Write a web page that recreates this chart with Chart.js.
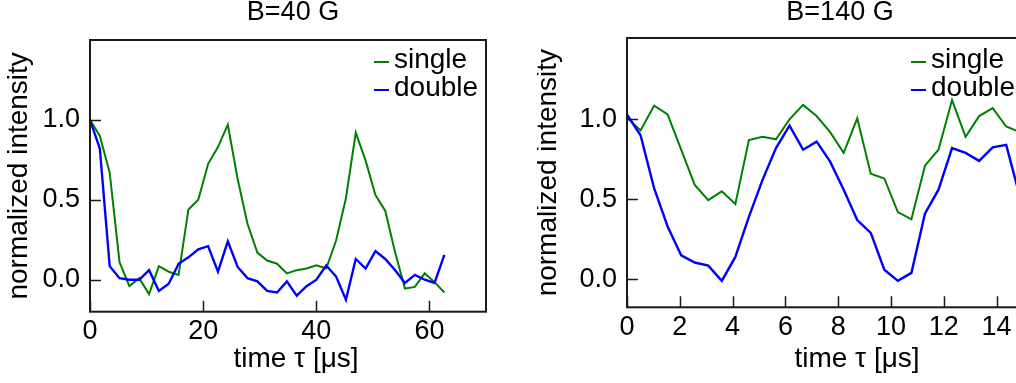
<!DOCTYPE html>
<html>
<head>
<meta charset="utf-8">
<script src="https://cdn.jsdelivr.net/npm/chart.js@4.4.1/dist/chart.umd.min.js"></script>
<style>
  html, body { margin: 0; padding: 0; background: #fff; overflow: hidden; }
  #wrap { position: relative; width: 1016px; height: 383px; overflow: hidden; }
  canvas { position: absolute; top: 0; }
</style>
</head>
<body>
<div id="wrap">
  <canvas id="left" width="508" height="383" style="left:0px"></canvas>
  <canvas id="right" width="508" height="383" style="left:537px"></canvas>
</div>
<script>
// B = 40 G panel
const tau40 = [0, 1.74, 3.48, 5.22, 6.96, 8.7, 10.44, 12.18, 13.92, 15.66, 17.4, 19.14,
  20.88, 22.62, 24.36, 26.1, 27.84, 29.58, 31.32, 33.06, 34.8, 36.54, 38.28, 40.02,
  41.76, 43.5, 45.24, 46.98, 48.72, 50.46, 52.2, 53.94, 55.68, 57.42, 59.16, 60.9, 62.64];
const single40 = [1.00, 0.90, 0.67, 0.11, -0.04, 0.01, -0.09, 0.085, 0.05, 0.03, 0.44, 0.50,
  0.725, 0.83, 0.97, 0.63, 0.35, 0.17, 0.12, 0.10, 0.04, 0.06, 0.07, 0.09,
  0.07, 0.245, 0.51, 0.92, 0.745, 0.53, 0.43, 0.17, -0.055, -0.045, 0.04, -0.015, -0.08];
const double40 = [1.00, 0.82, 0.085, 0.01, 0.00, 0.00, 0.06, -0.07, -0.025, 0.10, 0.14, 0.19,
  0.21, 0.05, 0.24, 0.08, 0.01, -0.01, -0.07, -0.08, -0.01, -0.10, -0.04, 0.00,
  0.09, 0.02, -0.125, 0.13, 0.07, 0.18, 0.13, 0.06, -0.02, 0.03, 0.00, -0.02, 0.155];

// B = 140 G panel
const tau140 = [0, 0.513, 1.026, 1.539, 2.052, 2.565, 3.078, 3.591, 4.104, 4.617, 5.13, 5.643,
  6.156, 6.669, 7.182, 7.695, 8.208, 8.721, 9.234, 9.747, 10.26, 10.773, 11.286, 11.799,
  12.312, 12.825, 13.338, 13.851, 14.364, 14.877];
const single140 = [1.01, 0.93, 1.085, 1.03, 0.81, 0.59, 0.495, 0.55, 0.47, 0.87, 0.89, 0.875,
  1.00, 1.09, 1.02, 0.92, 0.79, 1.006, 0.66, 0.63, 0.42, 0.375, 0.71, 0.81,
  1.12, 0.89, 1.02, 1.07, 0.955, 0.92];
const double140 = [1.03, 0.90, 0.57, 0.33, 0.15, 0.105, 0.085, -0.01, 0.14, 0.39, 0.62, 0.82,
  0.96, 0.81, 0.86, 0.735, 0.56, 0.37, 0.29, 0.06, -0.01, 0.04, 0.41, 0.56,
  0.82, 0.79, 0.74, 0.825, 0.84, 0.52];

const xTicks40 = [0, 20, 40, 60];
const xTicks140 = [0, 2, 4, 6, 8, 10, 12, 14];
const yTicks = [0, 0.5, 1.0];
const seriesNames = ['single', 'double'];

const FONT = 'Liberation Sans, Arial, sans-serif';
const FS = 27;   // tick labels, title
const LS = 28;   // axis titles, legend

const pts = (xs, ys) => xs.map((x, i) => ({ x: x, y: ys[i] }));

// frame, inward ticks, legend and text
const decor = {
  id: 'decor',
  afterDraw(chart, args, o) {
    const ctx = chart.ctx, a = chart.chartArea;
    const sx = chart.scales.x, sy = chart.scales.y;
    ctx.save();
    ctx.strokeStyle = '#1a1a1a';
    ctx.lineWidth = 1.5;
    ctx.beginPath();
    sx.ticks.forEach(t => {
      const px = Math.round(sx.getPixelForValue(t.value)) + 0.5;
      ctx.moveTo(px, a.bottom); ctx.lineTo(px, a.bottom - 11);
    });
    sy.ticks.forEach(t => {
      const py = Math.round(sy.getPixelForValue(t.value)) + 0.5;
      ctx.moveTo(a.left, py); ctx.lineTo(a.left + 11, py);
    });
    ctx.stroke();
    ctx.lineWidth = 2;
    ctx.strokeRect(a.left, a.top, a.right - a.left, a.bottom - a.top);

    // legend
    ctx.font = LS + 'px ' + FONT;
    ctx.fillStyle = '#000';
    ctx.textAlign = 'left';
    ctx.textBaseline = 'alphabetic';
    chart.data.datasets.forEach((d, i) => {
      const y = 62 + 28 * i;
      ctx.strokeStyle = d.borderColor;
      ctx.lineWidth = 2;
      ctx.beginPath();
      ctx.moveTo(a.right - 112, y); ctx.lineTo(a.right - 97, y);
      ctx.stroke();
      ctx.fillText(d.label, a.right - 92, y + 6);
    });

    // title and axis titles
    ctx.textAlign = 'center';
    ctx.textBaseline = 'middle';
    ctx.font = FS + 'px ' + FONT;
    ctx.fillText(o.title, o.titleX, 13);
    ctx.font = LS + 'px ' + FONT;
    ctx.fillText('time τ [μs]', o.xLabelX, 359);
    ctx.translate(o.yLabelX, (a.top + a.bottom) / 2);
    ctx.rotate(-Math.PI / 2);
    ctx.fillText('normalized intensity', 0, 0);
    ctx.restore();
  }
};

function makeChart(id, xs, s1, s2, xMax, xTicks, yMin, yMax, top, bottom, deco) {
  return new Chart(document.getElementById(id), {
    type: 'line',
    data: {
      datasets: [
        { label: seriesNames[0], data: pts(xs, s1), borderColor: '#008000', borderWidth: 2, order: 1 },
        { label: seriesNames[1], data: pts(xs, s2), borderColor: '#0000ff', borderWidth: 2.4, order: 0 }
      ]
    },
    options: {
      responsive: false,
      animation: false,
      events: [],
      devicePixelRatio: 1,
      layout: { padding: { top: top, right: 22, left: 0, bottom: 0 } },
      elements: { point: { radius: 0 }, line: { tension: 0, fill: false } },
      plugins: { legend: { display: false }, tooltip: { enabled: false }, decor: deco },
      scales: {
        x: {
          type: 'linear', min: 0, max: xMax,
          grid: { display: false, drawTicks: false }, border: { display: false },
          afterBuildTicks: s => { s.ticks = xTicks.map(v => ({ value: v })); },
          afterFit: s => { s.height = 383 - bottom; },
          ticks: { autoSkip: false, maxRotation: 0, padding: 4, color: '#000',
            font: { family: FONT, size: FS }, callback: v => String(v) }
        },
        y: {
          min: yMin, max: yMax,
          grid: { display: false, drawTicks: false }, border: { display: false },
          afterBuildTicks: s => { s.ticks = yTicks.map(v => ({ value: v })); },
          afterFit: s => { s.width = 90; },
          ticks: { padding: 10, color: '#000', font: { family: FONT, size: FS },
            callback: v => Number(v).toFixed(1) }
        }
      }
    },
    plugins: [decor]
  });
}

makeChart('left', tau40, single40, double40, 70, xTicks40, -0.2, 1.5, 40, 311.7,
  { title: 'B=40 G', titleX: 293, xLabelX: 296, yLabelX: 19 });
makeChart('right', tau140, single140, double140, 15, xTicks140, -0.175, 1.508, 38, 307.3,
  { title: 'B=140 G', titleX: 840 - 537, xLabelX: 857 - 537, yLabelX: 548 - 537 });
</script>
</body>
</html>
